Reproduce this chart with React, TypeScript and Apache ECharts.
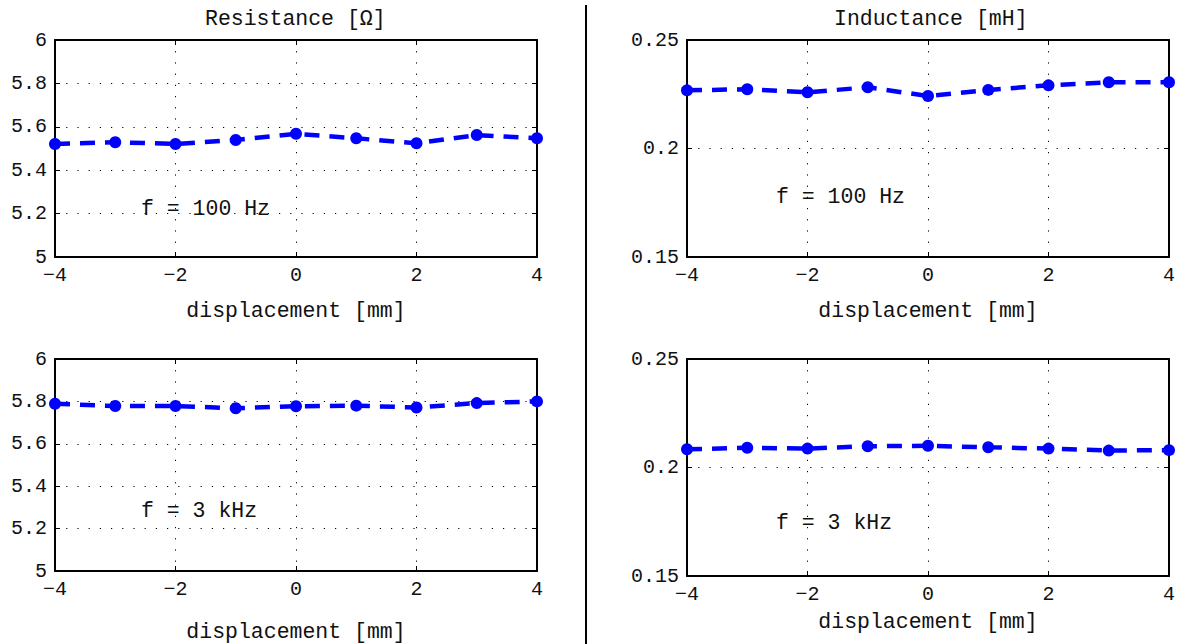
import React, { useEffect, useRef } from "react";
import * as echarts from "echarts";

const displacement = [-4, -3, -2, -1, 0, 1, 2, 3, 4];
const resistance100Hz = [5.521, 5.529, 5.521, 5.539, 5.568, 5.547, 5.524, 5.562, 5.547];
const resistance3kHz = [5.789, 5.778, 5.778, 5.768, 5.777, 5.78, 5.771, 5.792, 5.8];
const inductance100Hz = [0.2268, 0.2273, 0.2259, 0.2282, 0.2242, 0.227, 0.2291, 0.2305, 0.2305];
const inductance3kHz = [0.2084, 0.2091, 0.2087, 0.2098, 0.21, 0.2093, 0.2087, 0.2078, 0.208];

const titles = ["Resistance [Ω]", "Inductance [mH]"];
const xName = "displacement [mm]";
const freqLabels = ["f = 100 Hz", "f = 3 kHz"];

const FONT = "'Liberation Mono', 'DejaVu Sans Mono', monospace";

export default function App() {
  const ref = useRef<HTMLDivElement>(null);

  useEffect(() => {
    if (!ref.current) return;
    const chart = echarts.init(ref.current, undefined, { renderer: "svg" });

    const grids = [
      { left: 55, top: 40, width: 482, height: 217 },
      { left: 55, top: 359, width: 482, height: 217 },
      { left: 687, top: 40, width: 482, height: 217 },
      { left: 687, top: 359, width: 482, height: 217 },
    ];
    const yRanges = [
      { min: 5, max: 6, interval: 0.2 },
      { min: 5, max: 6, interval: 0.2 },
      { min: 0.15, max: 0.25, interval: 0.05 },
      { min: 0.15, max: 0.25, interval: 0.05 },
    ];
    const nameGaps = [43, 50, 43, 35];
    const seriesData = [resistance100Hz, resistance3kHz, inductance100Hz, inductance3kHz];

    const axisLine = { show: true, onZero: false, lineStyle: { color: "#000", width: 2 } };
    const tick = { show: true, inside: true, length: 5, lineStyle: { color: "#000", width: 1 } };
    const split = { show: true, lineStyle: { color: "#000", width: 1, type: [1.2, 10] as any } };
    const labelStyle = { color: "#111", fontFamily: FONT, fontSize: 20 };
    const nameStyle = { color: "#111", fontFamily: FONT, fontSize: 21.5 };

    const xAxis: any[] = [];
    const yAxis: any[] = [];
    const series: any[] = [];

    grids.forEach((g, i) => {
      xAxis.push({
        gridIndex: i,
        type: "value",
        position: "bottom",
        min: -4,
        max: 4,
        interval: 2,
        axisLine,
        axisTick: tick,
        splitLine: split,
        axisLabel: {
          ...labelStyle,
          margin: 8,
          formatter: (v: number) => String(v).replace("-", "−"),
        },
        name: xName,
        nameLocation: "middle",
        nameGap: nameGaps[i],
        nameTextStyle: { ...nameStyle },
      });
      xAxis.push({
        gridIndex: i,
        type: "value",
        position: "top",
        min: -4,
        max: 4,
        interval: 2,
        axisLine,
        axisTick: tick,
        splitLine: { show: false },
        axisLabel: { show: false },
      });
      yAxis.push({
        gridIndex: i,
        type: "value",
        position: "left",
        min: yRanges[i].min,
        max: yRanges[i].max,
        interval: yRanges[i].interval,
        axisLine,
        axisTick: tick,
        splitLine: split,
        axisLabel: { ...labelStyle, margin: 8 },
      });
      yAxis.push({
        gridIndex: i,
        type: "value",
        position: "right",
        min: yRanges[i].min,
        max: yRanges[i].max,
        interval: yRanges[i].interval,
        axisLine,
        axisTick: tick,
        splitLine: { show: false },
        axisLabel: { show: false },
      });
      series.push({
        type: "line",
        xAxisIndex: i * 2,
        yAxisIndex: i * 2,
        data: displacement.map((x, k) => [x, seriesData[i][k]]),
        lineStyle: { color: "#0000ff", width: 4.5, type: [15, 10] as any },
        itemStyle: { color: "#0000ff" },
        symbol: "circle",
        symbolSize: 12,
        showSymbol: true,
        clip: false,
      });
    });

    const txt = (text: string, x: number, y: number) => ({
      type: "text",
      left: x,
      top: y,
      style: { text, fill: "#111", font: `21.5px ${FONT}` },
    });

    chart.setOption({
      animation: false,
      backgroundColor: "#fff",
      grid: grids.map((g) => ({ ...g, containLabel: false })),
      xAxis,
      yAxis,
      series,
      graphic: [
        txt(titles[0], 205, 8),
        txt(titles[1], 834, 8),
        txt(freqLabels[0], 141, 198),
        txt(freqLabels[0], 776, 186),
        txt(freqLabels[1], 141, 500),
        txt(freqLabels[1], 776, 512),
        {
          type: "line",
          shape: { x1: 586, y1: 5, x2: 586, y2: 644 },
          style: { stroke: "#000", lineWidth: 2 },
        },
      ],
    });

    return () => chart.dispose();
  }, []);

  return (
    <div
      ref={ref}
      style={{ position: "fixed", left: 0, top: 0, width: 1179, height: 644, background: "#fff" }}
    />
  );
}
